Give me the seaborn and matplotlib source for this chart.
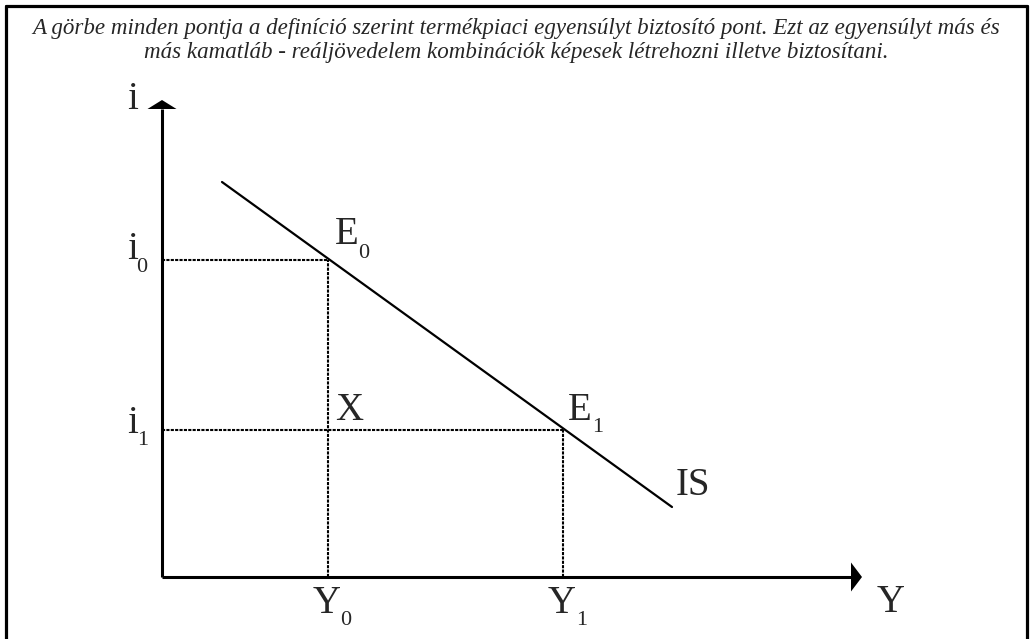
import matplotlib
matplotlib.use("Agg")
import matplotlib.pyplot as plt
import seaborn as sns
import pandas as pd

sns.set_theme(style="white")
plt.rcParams["font.family"] = ["Liberation Serif", "DejaVu Serif"]

# ---- data (arbitrary units, origin at the axes' crossing) ----
caption_lines = [
    "A görbe minden pontja a definíció szerint termékpiaci egyensúlyt biztosító pont. Ezt az egyensúlyt más és",
    "más kamatláb - reáljövedelem kombinációk képesek létrehozni illetve biztosítani.",
]
is_x = [60, 510]          # IS curve end points (Y)
is_y = [395, 70]          # IS curve end points (i)
Y_levels = [166, 401]     # Y0, Y1
i_levels = [317, 147]     # i0, i1
x_axis_end = 700
y_axis_end = 477

W, H = 1032, 639
fig = plt.figure(figsize=(W / 100, H / 100), dpi=100)
ax = fig.add_axes([0, 0, 1, 1])
ax.set_xlim(-162, W - 162)
ax.set_ylim(-(H - 577), 577)
ax.axis("off")

# frame around the figure
fig.add_artist(plt.Line2D([5.5 / W, 5.5 / W], [0, 1 - 5.5 / H], color="black", lw=2.3, transform=fig.transFigure))
fig.add_artist(plt.Line2D([5.5 / W, 1027 / W], [1 - 5.5 / H, 1 - 5.5 / H], color="black", lw=2.3, transform=fig.transFigure))
fig.add_artist(plt.Line2D([1027 / W, 1027 / W], [0, 1 - 5.5 / H], color="black", lw=2.3, transform=fig.transFigure))

# caption
fig.text(0.5, 1 - 34 / H, caption_lines[0], ha="center", va="baseline", fontsize=16.6, style="italic")
fig.text(0.5, 1 - 58 / H, caption_lines[1], ha="center", va="baseline", fontsize=16.6, style="italic")

# axes with arrows
ax.plot([0, 0], [0, y_axis_end - 9], color="black", lw=2.2, solid_capstyle="butt")
ax.plot([0, x_axis_end - 10], [0, 0], color="black", lw=2.2, solid_capstyle="butt")
ax.fill([-14.5, 14.5, 0], [y_axis_end - 9, y_axis_end - 9, y_axis_end], color="black", lw=0)
ax.fill([x_axis_end - 11, x_axis_end - 11, x_axis_end], [-14.5, 14.5, 0], color="black", lw=0)

# IS line
df = pd.DataFrame({"Y": is_x, "i": is_y})
sns.lineplot(data=df, x="Y", y="i", ax=ax, color="black", lw=1.6, sort=False)

# dotted guides
dot = dict(color="black", lw=1.5, linestyle=(0, (1.5, 0.6)))
for yv, iv in zip(Y_levels, i_levels):
    ax.plot([0, yv], [iv, iv], **dot)
    ax.plot([yv, yv], [0, iv], **dot)

big = 28
small = 16


def label(x, y, main, sub=None, dx_sub=0, dy_sub=-13):
    ax.text(x, y, main, fontsize=big, ha="left", va="baseline")
    if sub is not None:
        ax.text(x + dx_sub, y + dy_sub, sub, fontsize=small, ha="left", va="baseline")


# axis labels
label(-35, y_axis_end - 9, "i")
label(x_axis_end + 15, -35, "Y")
# i levels
label(-35, i_levels[0] + 1, "i", "0", dx_sub=9)
label(-35, i_levels[1] - 3, "i", "1", dx_sub=10, dy_sub=-12)
# Y levels
label(Y_levels[0] - 15, -36, "Y", "0", dx_sub=27, dy_sub=-12)
label(Y_levels[1] - 15, -36, "Y", "1", dx_sub=28, dy_sub=-12)
# points
label(Y_levels[0] + 7, i_levels[0] + 16, "E", "0", dx_sub=23, dy_sub=-14)
label(Y_levels[0] + 7, i_levels[1] + 10, "X")
label(Y_levels[1] + 5, i_levels[1] + 10, "E", "1", dx_sub=24, dy_sub=-12)
label(is_x[1] + 4, is_y[1] + 12, "IS")

fig.savefig("out.png", dpi=100)
